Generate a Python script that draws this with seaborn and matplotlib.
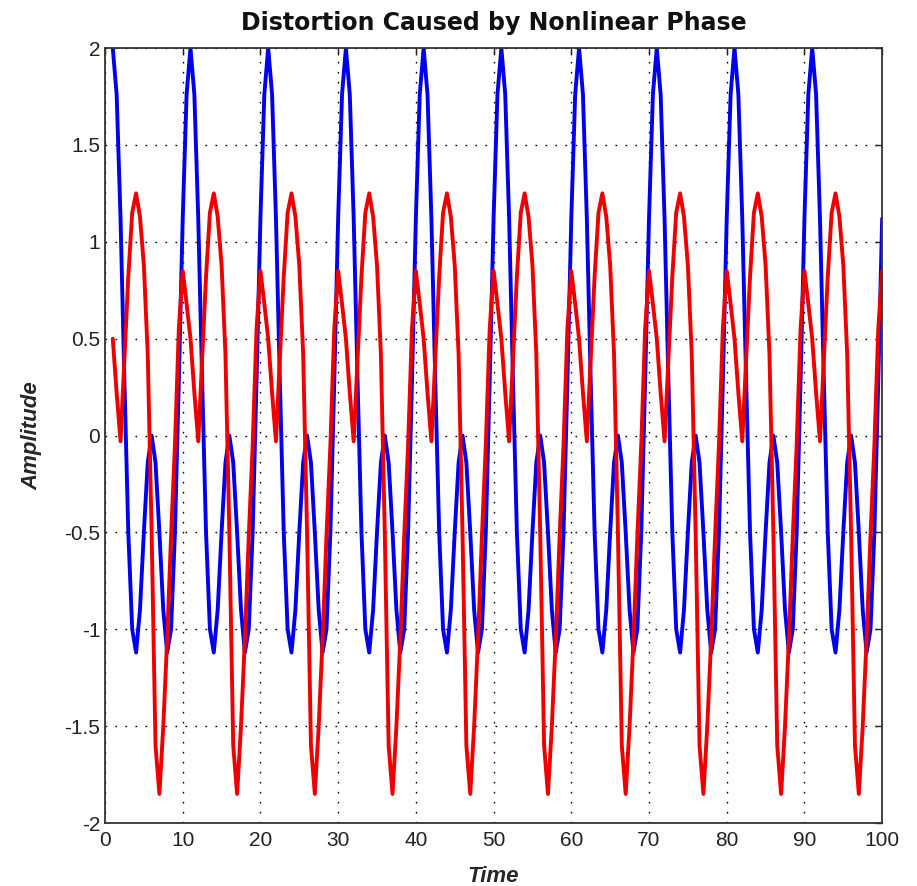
import matplotlib
matplotlib.use("Agg")
import matplotlib.pyplot as plt
import numpy as np
import pandas as pd
import seaborn as sns

# one period (10 time units, sampled every 0.5) read off the picture,
# the signal repeats for the whole 1..100 span
blue_period = [2.00, 1.76, 1.12, 0.28, -0.50, -1.00, -1.12, -0.90, -0.50, -0.14,
               0.00, -0.14, -0.50, -0.90, -1.12, -1.00, -0.50, 0.28, 1.12, 1.76]
red_period = [0.50, 0.22, -0.03, 0.40, 0.82, 1.15, 1.25, 1.13, 0.88, 0.42,
              -0.50, -1.60, -1.85, -1.50, -1.05, -0.52, -0.05, 0.55, 0.85, 0.68]
time = np.arange(1, 100.5, 0.5)
blue = np.tile(blue_period, 10)[:len(time)]
red = np.tile(red_period, 10)[:len(time)]

x_ticks = [0, 10, 20, 30, 40, 50, 60, 70, 80, 90, 100]
y_ticks = [-2, -1.5, -1, -0.5, 0, 0.5, 1, 1.5, 2]
y_labels = ['-2', '-1.5', '-1', '-0.5', '0', '0.5', '1', '1.5', '2']

df = pd.DataFrame({'Time': time, 'original': blue, 'distorted': red})

sns.set_style("white")
plt.rcParams['font.family'] = ['Liberation Sans', 'DejaVu Sans']
plt.rcParams['xtick.direction'] = 'in'
plt.rcParams['ytick.direction'] = 'in'

fig = plt.figure(figsize=(9.17, 8.86), dpi=100)
ax = fig.add_axes([0.1145, 0.0711, 0.8475, 0.8747])

sns.lineplot(x='Time', y='original', data=df, color='#0000ee', linewidth=2.8, ax=ax)
sns.lineplot(x='Time', y='distorted', data=df, color='#ee0000', linewidth=2.8, ax=ax)

ax.set_xlim(0, 100)
ax.set_ylim(-2, 2)
ax.set_xticks(x_ticks)
ax.set_yticks(y_ticks)
ax.set_yticklabels(y_labels)
ax.tick_params(axis='both', labelsize=15, length=5, width=1, top=True, right=True, colors='#222222')
ax.tick_params(axis='x', pad=6)
ax.grid(True, linestyle=(0, (1.2, 6)), color='black', linewidth=1)
for s in ax.spines.values():
    s.set_color('#333333')
    s.set_linewidth(1.3)

ax.set_title('Distortion Caused by Nonlinear Phase', fontsize=17, fontweight='bold',
             family=['DejaVu Sans'], pad=13, color='#111111')
ax.set_xlabel('Time', fontsize=16, fontstyle='italic', fontweight='bold')
ax.set_ylabel('Amplitude', fontsize=16, fontstyle='italic', fontweight='bold')
ax.xaxis.set_label_coords(0.5, -0.055)
ax.yaxis.set_label_coords(-0.081, 0.5)

plt.savefig('out.png', format='png', dpi=100)
